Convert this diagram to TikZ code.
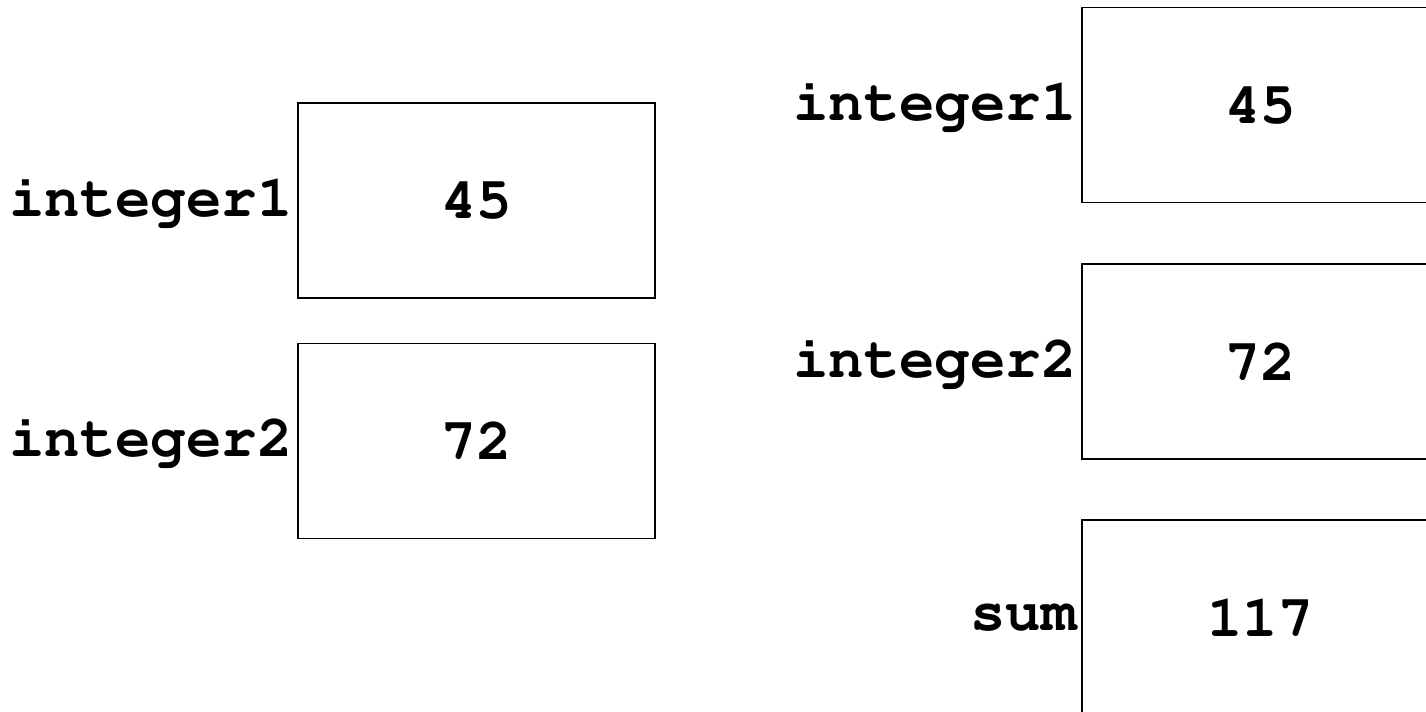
\documentclass[tikz,border=0pt]{standalone}
\usepackage[T1]{fontenc}
\usepackage{courier}
\usetikzlibrary{positioning}

\begin{document}
\begin{tikzpicture}[node distance=-0.03cm, every node/.style={align=center, font=\ttfamily\bfseries\fontsize{33.6}{37}\selectfont},
  cell/.style={draw, rectangle, line width=0.8pt, minimum width=7.14cm, minimum height=3.9cm}]
   \useasboundingbox (0,0) rectangle (28.52,-14.22);
   \clip (0,0) rectangle (28.52,-14.22);
   \node[cell] (aint1) at (9.53,-4.01) {45};
   \node[cell] (aint2) at (9.53,-8.82) {72};
   \node[left=of aint1] (aname1) {integer1};
   \node[left=of aint2] (aname2) {integer2};

   \node[cell] (bint1) at (25.21,-2.10) {45};
   \node[cell] (bint2) at (25.21,-7.23) {72};
   \node[cell] (bsum) at (25.21,-12.35) {117};
   \node[left=of bint1] (bname1) {integer1};
   \node[left=of bint2] (bname2) {integer2};
   \node[left=of bsum] (bname3) {sum};
 \end{tikzpicture}
\end{document}
